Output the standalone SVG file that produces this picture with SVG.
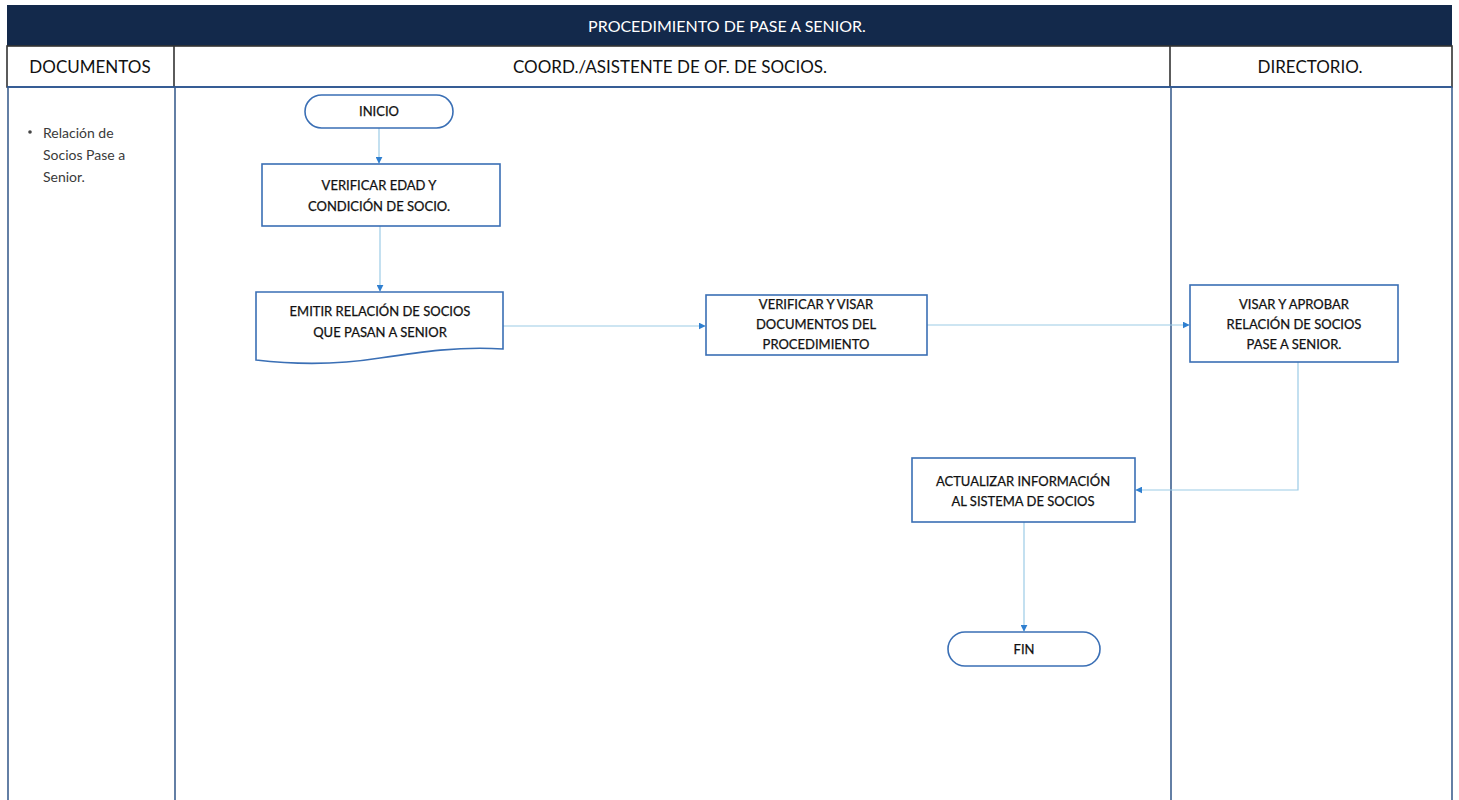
<svg xmlns="http://www.w3.org/2000/svg" width="1459" height="800" viewBox="0 0 1459 800">
<style>
.hdr{font-family:"Lato","Liberation Sans",sans-serif;font-size:17px;fill:#111;text-anchor:middle}
.ttl{font-family:"Lato","Liberation Sans",sans-serif;font-size:16px;fill:#fff;text-anchor:middle}
.nt{font-family:"Lato","Liberation Sans",sans-serif;font-size:13px;fill:#111;text-anchor:middle;stroke:#111;stroke-width:0.25}
.doc{font-family:"Lato","Liberation Sans",sans-serif;font-size:14px;fill:#3a3a3a}
.box{fill:#fff;stroke:#3a6fb5;stroke-width:1.6}
.lane{stroke:#3d5f8f;stroke-width:1.6;fill:none}
.conn{stroke:#9ccbe6;stroke-width:1.2;fill:none}
</style>
<defs>
<marker id="ah" viewBox="0 0 10 10" refX="9" refY="5" markerWidth="7" markerHeight="7" orient="auto" markerUnits="userSpaceOnUse">
<path d="M0,0 L10,5 L0,10 z" fill="#2f7fd0"/>
</marker>
</defs>
<rect width="1459" height="800" fill="#fff"/>
<g id="swimlanes">
<rect x="7" y="5" width="1445" height="41" fill="#13294b"/>
<text class="ttl" x="727" y="32">PROCEDIMIENTO DE PASE A SENIOR.</text>
<rect x="7" y="46" width="1445" height="41" fill="#fff" stroke="#333" stroke-width="1.6"/>
<line x1="174" y1="46" x2="174" y2="87" stroke="#333" stroke-width="1.6"/>
<line x1="1170" y1="46" x2="1170" y2="87" stroke="#333" stroke-width="1.6"/>
<line x1="7" y1="87" x2="1452" y2="87" stroke="#2a5ea8" stroke-width="1.6"/>
<text class="hdr" x="90" y="73">DOCUMENTOS</text>
<text class="hdr" x="670" y="73">COORD./ASISTENTE DE OF. DE SOCIOS.</text>
<text class="hdr" x="1310" y="73">DIRECTORIO.</text>
<line class="lane" x1="8" y1="87" x2="8" y2="800" stroke="#3a6fc0"/>
<line class="lane" x1="175" y1="87" x2="175" y2="800"/>
<line class="lane" x1="1171" y1="87" x2="1171" y2="800"/>
<line class="lane" x1="1452" y1="87" x2="1452" y2="800" stroke="#3a6fc0"/>
</g>
<g id="documentos">
<circle cx="30" cy="132" r="1.8" fill="#444"/>
<text class="doc" x="43" y="138">Relación de</text>
<text class="doc" x="43" y="160">Socios Pase a</text>
<text class="doc" x="43" y="182">Senior.</text>
</g>
<g id="connectors">
<path class="conn" d="M379,128 V163" marker-end="url(#ah)"/>
<path class="conn" d="M380,226 V291" marker-end="url(#ah)"/>
<path class="conn" d="M503,326 H705" marker-end="url(#ah)"/>
<path class="conn" d="M927,325 H1189" marker-end="url(#ah)"/>
<path class="conn" d="M1298,362 V490 H1136" marker-end="url(#ah)"/>
<path class="conn" d="M1024,522 V631" marker-end="url(#ah)"/>
</g>
<g id="inicio">
<rect class="box" x="305" y="95" width="148" height="33" rx="16.5"/>
<text class="nt" x="379" y="116">INICIO</text>
</g>
<g id="verificar-edad">
<rect class="box" x="262" y="164" width="238" height="62"/>
<text class="nt" x="379" y="190">VERIFICAR EDAD Y</text>
<text class="nt" x="379" y="211">CONDICIÓN DE SOCIO.</text>
</g>
<g id="emitir">
<path class="box" d="M256,292 H503 V349 C460,346 420,352 380,358 C330,366 290,364 256,360 Z"/>
<text class="nt" x="380" y="316">EMITIR RELACIÓN DE SOCIOS</text>
<text class="nt" x="380" y="337">QUE PASAN A SENIOR</text>
</g>
<g id="verificar-visar">
<rect class="box" x="706" y="295" width="221" height="60"/>
<text class="nt" x="816" y="309">VERIFICAR Y VISAR</text>
<text class="nt" x="816" y="329">DOCUMENTOS DEL</text>
<text class="nt" x="816" y="349">PROCEDIMIENTO</text>
</g>
<g id="visar-aprobar">
<rect class="box" x="1190" y="285" width="208" height="77"/>
<text class="nt" x="1294" y="309">VISAR Y APROBAR</text>
<text class="nt" x="1294" y="329">RELACIÓN DE SOCIOS</text>
<text class="nt" x="1294" y="349">PASE A SENIOR.</text>
</g>
<g id="actualizar">
<rect class="box" x="912" y="458" width="223" height="64"/>
<text class="nt" x="1023" y="486">ACTUALIZAR INFORMACIÓN</text>
<text class="nt" x="1023" y="506">AL SISTEMA DE SOCIOS</text>
</g>
<g id="fin">
<rect class="box" x="948" y="632" width="152" height="34" rx="17"/>
<text class="nt" x="1024" y="654">FIN</text>
</g>
</svg>
